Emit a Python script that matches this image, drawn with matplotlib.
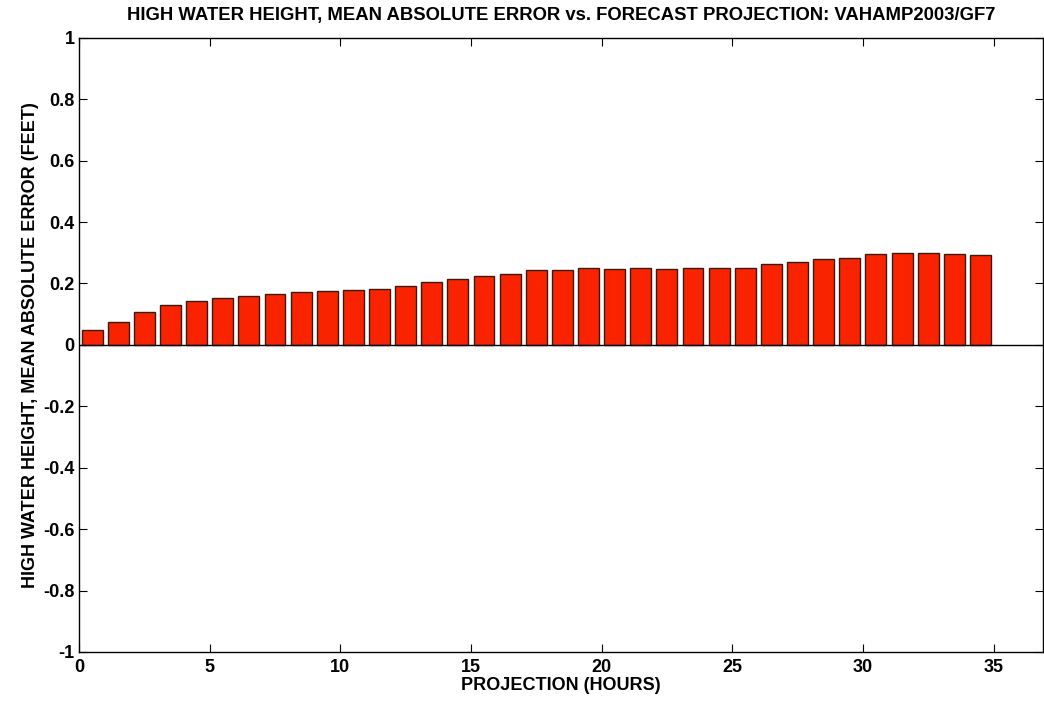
import matplotlib

matplotlib.use("Agg")
import matplotlib.pyplot as plt
import numpy as np

plt.rcParams["font.family"] = ["Liberation Sans", "DejaVu Sans"]

# projection bins (hours) and mean absolute error (feet)
hours = np.arange(35) + 0.5
mae = [0.049, 0.074, 0.108, 0.129, 0.144, 0.152, 0.158, 0.167, 0.171, 0.174,
       0.178, 0.181, 0.192, 0.205, 0.216, 0.223, 0.232, 0.245, 0.245, 0.252,
       0.248, 0.252, 0.248, 0.252, 0.252, 0.252, 0.264, 0.271, 0.279, 0.282,
       0.297, 0.300, 0.300, 0.297, 0.293]
xticks = [0, 5, 10, 15, 20, 25, 30, 35]
yticks = [-1, -0.8, -0.6, -0.4, -0.2, 0, 0.2, 0.4, 0.6, 0.8, 1]
ytick_labels = ["-1", "-0.8", "-0.6", "-0.4", "-0.2", "0", "0.2", "0.4", "0.6", "0.8", "1"]

fig = plt.figure(figsize=(10.44, 7.01), dpi=100)
ax = fig.add_axes([0.0757, 0.070, 0.9235, 0.876])

ax.bar(hours, mae, width=0.8, color="#fa2300", edgecolor="#3a1a10", linewidth=1.0)
ax.axhline(0, color="black", linewidth=1.0)

ax.set_xlim(0, 36.9)
ax.set_ylim(-1, 1)
ax.set_xticks(xticks)
ax.set_yticks(yticks)
ax.set_yticklabels(ytick_labels)
ax.tick_params(direction="in", top=True, right=True, length=6, labelsize=13, pad=3)
ax.tick_params(axis="x", pad=5)
for lbl in ax.get_xticklabels() + ax.get_yticklabels():
    lbl.set_fontweight("bold")
for spine in ax.spines.values():
    spine.set_linewidth(1.0)

ax.set_title("HIGH WATER HEIGHT, MEAN ABSOLUTE ERROR vs. FORECAST PROJECTION: VAHAMP2003/GF7",
             fontsize=13.3, fontweight="bold", pad=13)
ax.set_xlabel("PROJECTION (HOURS)", fontsize=13, fontweight="bold", labelpad=1)
ax.set_ylabel("HIGH WATER HEIGHT, MEAN ABSOLUTE ERROR (FEET)", fontsize=13,
              fontweight="bold", labelpad=3)

fig.savefig("out.png", dpi=100)
